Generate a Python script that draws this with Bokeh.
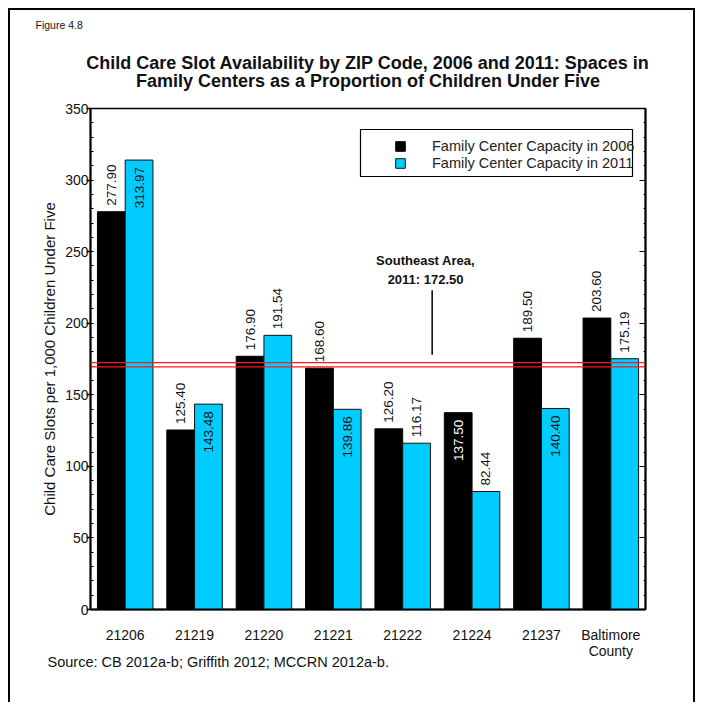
import math
from bokeh.plotting import figure
from bokeh.models import (ColumnDataSource, FactorRange, Range1d, Span, Label, LinearAxis, Title,
                          SingleIntervalTicker, Legend, LegendItem, CDSView, IndexFilter,
                          BoxAnnotation)
from bokeh.transform import dodge
from bokeh.core.properties import value
from bokeh.embed import file_html
from bokeh.resources import INLINE

# ---------------- data ----------------
zip_codes = ["21206", "21219", "21220", "21221", "21222", "21224", "21237", "Baltimore\nCounty"]
capacity_2006 = [277.90, 125.40, 176.90, 168.60, 126.20, 137.50, 189.50, 203.60]
capacity_2011 = [313.97, 143.48, 191.54, 139.86, 116.17, 82.44, 140.40, 175.19]
label_2006 = ["277.90", "125.40", "176.90", "168.60", "126.20", "137.50", "189.50", "203.60"]
label_2011 = ["313.97", "143.48", "191.54", "139.86", "116.17", "82.44", "140.40", "175.19"]
series_names = ["Family Center Capacity in 2006", "Family Center Capacity in 2011"]
southeast_2011 = 172.50
southeast_text = "Southeast Area,\n2011: 172.50"
y_ticks = [0, 50, 100, 150, 200, 250, 300, 350]

# label placement (style): which value labels sit inside their bar
inside_2006 = [5]
inside_2011 = [0, 1, 3, 6]

FONT = "Liberation Sans"
BLACK = "#000000"
CYAN = "#00CCFF"
TXT = "#111111"

p = figure(width=683, height=692, x_range=FactorRange(*zip_codes, range_padding=0),
           y_range=Range1d(y_ticks[0], y_ticks[-1]), output_backend="svg",
           toolbar_location=None, min_border_left=80, min_border_right=52,
           min_border_top=98, min_border_bottom=95)
p.styles = {"border-top": "2px solid black", "border-left": "2px solid black",
            "border-right": "2px solid black", "box-sizing": "content-box",
            "margin-left": "8px", "margin-top": "8px"}
p.background_fill_color = "white"
p.outline_line_color = "black"
p.outline_line_width = 1.5
p.xgrid.visible = False
p.ygrid.visible = False

src06 = ColumnDataSource(dict(zip=zip_codes, val=capacity_2006, txt=label_2006))
src11 = ColumnDataSource(dict(zip=zip_codes, val=capacity_2011, txt=label_2011))

W = 0.4
r06 = p.vbar(x=dodge("zip", -0.2, range=p.x_range), top="val", width=W, source=src06,
             fill_color=BLACK, line_color="black", line_width=1)
r11 = p.vbar(x=dodge("zip", 0.2, range=p.x_range), top="val", width=W, source=src11,
             fill_color=CYAN, line_color="#111111", line_width=1)

# double red reference line (upper line at the value, second line just below it)
for loc in (southeast_2011, southeast_2011 - 3.0):
    p.add_layout(Span(location=loc, dimension="width", line_color="#FF1A1A", line_width=1.4))

# value labels
def add_labels(src, off, inside, text_in_color):
    n = len(src.data["zip"])
    above = [i for i in range(n) if i not in inside]
    common = dict(angle=math.pi / 2, text_font=value(FONT), text_font_size="13.5px",
                  text_baseline="middle", source=src)
    p.text(x=dodge("zip", off, range=p.x_range), y="val", text="txt",
           view=CDSView(filter=IndexFilter(above)), text_align="left", y_offset=-6,
           text_color=TXT, **common)
    if inside:
        p.text(x=dodge("zip", off, range=p.x_range), y="val", text="txt",
               view=CDSView(filter=IndexFilter(inside)), text_align="right", y_offset=7,
               text_color=text_in_color, **common)

add_labels(src06, -0.2, inside_2006, "white")
add_labels(src11, 0.2, inside_2011, TXT)

# annotation: Southeast Area
se_x = 4.925
p.segment(x0=[se_x], y0=[178], x1=[se_x], y1=[223], line_color="black", line_width=1.5)
p.add_layout(Label(x=4.83, y=225, text=southeast_text, text_align="center",
                   text_baseline="bottom", text_font=FONT, text_font_size="13px",
                   text_font_style="bold", text_line_height=1.3, text_color=TXT))

# axes
ticker = SingleIntervalTicker(interval=50, num_minor_ticks=5)
yax = p.yaxis[0]
yax.ticker = ticker
yax.axis_label = "Child Care Slots per 1,000 Children Under Five"
yax.axis_label_text_font = FONT
yax.axis_label_text_font_size = "15px"
yax.axis_label_text_font_style = "normal"
yax.axis_label_text_color = TXT
yax.axis_label_standoff = 4
yax.major_label_text_font = FONT
yax.major_label_text_font_size = "14px"
yax.major_label_text_color = TXT
yax.major_label_standoff = -2
yax.axis_line_width = 2
yax.major_tick_out = 4
yax.major_tick_in = 0
yax.major_tick_line_width = 1.5
yax.minor_tick_in = 3
yax.minor_tick_out = 0

rax = LinearAxis(ticker=ticker, major_label_text_alpha=0, major_tick_in=6, major_tick_out=0,
                 minor_tick_in=2, minor_tick_out=0, axis_line_width=2,
                 major_label_text_font_size="1px", major_label_standoff=0)
p.add_layout(rax, "right")

xax = p.xaxis[0]
xax.major_label_text_font = FONT
xax.major_label_text_font_size = "14px"
xax.major_label_text_line_height = 1.0
xax.major_label_text_color = TXT
xax.major_label_standoff = 11
xax.major_tick_line_color = None
xax.minor_tick_line_color = None
xax.axis_line_width = 2

# legend: frame box + items (frame-relative screen px)
p.add_layout(BoxAnnotation(left=270, right=542, bottom=433, top=480,
                           left_units="screen", right_units="screen",
                           bottom_units="screen", top_units="screen",
                           fill_color="white", fill_alpha=1, line_color="black",
                           line_width=1.2, line_alpha=1))
legend = Legend(items=[LegendItem(label=series_names[0], renderers=[r06]),
                       LegendItem(label=series_names[1], renderers=[r11])],
                location=(304, 438), padding=0, spacing=0, glyph_width=12, glyph_height=12,
                label_height=17, label_standoff=26, label_text_font=FONT,
                label_text_font_size="14.5px", label_text_color="#222222",
                border_line_color=None, background_fill_alpha=0, margin=0)
p.add_layout(legend, "center")

# titles and source note
main_title = Title(text="Child Care Slot Availability by ZIP Code, 2006 and 2011: Spaces in\n"
                        "Family Centers as a Proportion of Children Under Five",
                   align="center", text_font=FONT, text_font_size="18px",
                   text_font_style="bold", text_color=TXT, text_line_height=0.9,
                   standoff=36)
if "text_align" in Title.properties():
    main_title.text_align = "center"
p.add_layout(main_title, "above")
p.add_layout(Title(text="Figure 4.8", align="left", offset=-55, text_font=FONT,
                   text_font_size="10.5px", text_font_style="normal", text_color=TXT,
                   standoff=4), "above")
p.add_layout(Title(text="Source: CB 2012a-b; Griffith 2012; MCCRN 2012a-b.", align="left",
                   offset=-43, text_font=FONT, text_font_size="14.5px",
                   text_font_style="normal", text_color=TXT, vertical_align="top",
                   standoff=-15), "below")

open("out.html", "w").write(file_html(p, INLINE))
